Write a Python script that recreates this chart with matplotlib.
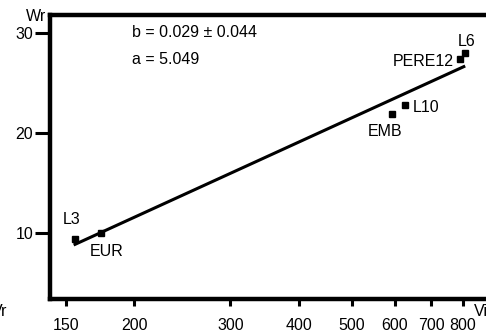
import numpy as np
import matplotlib
matplotlib.use('Agg')
import matplotlib.pyplot as plt

plt.rcParams['font.family'] = ['Liberation Sans', 'DejaVu Sans']
fs = 11.5

# data
names = ['L3', 'EUR', 'EMB', 'L10', 'PERE12', 'L6']
vi = [155.8, 173.7, 592, 625, 788, 808]
wr = [9.4, 10.0, 21.9, 22.8, 27.4, 28.0]
fit_x = [155, 807]
fit_y = [8.8, 26.7]
xticks = [150, 200, 300, 400, 500, 600, 700, 800]
yticks = [10, 20, 30]

# label offsets in pixels and alignment
offs = {'L3': (-3, 19, 'center'), 'EUR': (6, -18, 'center'), 'EMB': (-7, -17, 'center'),
        'L10': (8, -2, 'left'), 'PERE12': (-6, -2, 'right'), 'L6': (1, 12, 'center')}

fig = plt.figure(figsize=(4.86, 3.35), dpi=100)
ax = fig.add_axes([50/486, 36/335, 436/486, 284/335])
ax.set_xscale('log')
ax.set_xlim(140.3, 881)
ax.set_ylim(3.4, 31.8)

ax.plot(fit_x, fit_y, 'k-', lw=2.2, solid_capstyle='butt')
ax.plot(vi, wr, 'ks', ms=4.5)
for n, x, y in zip(names, vi, wr):
    dx, dy, ha = offs[n]
    ax.annotate(n, (x, y), xytext=(dx, dy), textcoords='offset pixels',
                ha=ha, va='center', fontsize=fs)

ax.text(0.188, 0.937, 'b = 0.029 \u00b1 0.044', transform=ax.transAxes, va='center', fontsize=fs)
ax.text(0.188, 0.842, 'a = 5.049', transform=ax.transAxes, va='center', fontsize=fs)

ax.set_xticks(xticks)
ax.set_xticklabels([str(t) for t in xticks])
ax.xaxis.set_minor_locator(matplotlib.ticker.NullLocator())
ax.set_yticks(yticks)
for s in ['left', 'bottom', 'top']:
    ax.spines[s].set_linewidth(3.2)
ax.spines['right'].set_visible(False)
ax.tick_params(axis='x', length=5, width=2.2, pad=9, labelsize=fs)
ax.tick_params(axis='y', length=11, width=2.2, pad=1, labelsize=fs)

# axis names sit at the figure edges, partly cut off as in the original
fig.text(26/486, (335-16.5)/335, 'Wr', ha='left', va='center', fontsize=fs)
fig.text(474/486, (335-311)/335, 'Vi', ha='left', va='center', fontsize=fs)
fig.text(7/486, (335-311)/335, 'Vr', ha='right', va='center', fontsize=fs)

fig.savefig('out.png', dpi=100)
